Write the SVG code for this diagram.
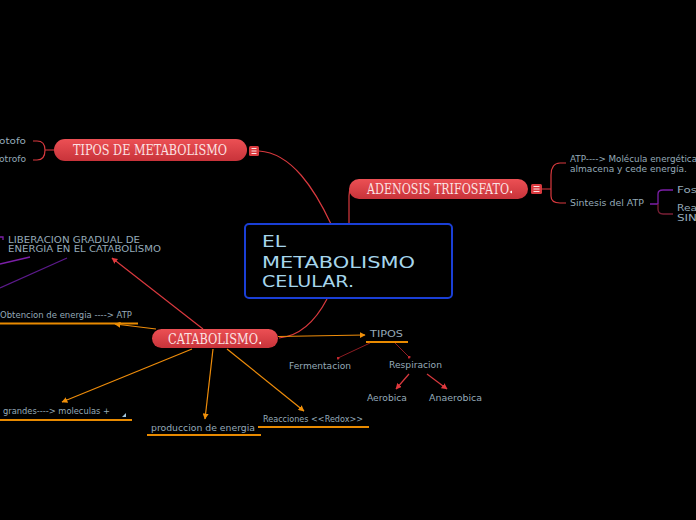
<svg xmlns="http://www.w3.org/2000/svg" width="696" height="520" viewBox="0 0 696 520">
<defs>
<linearGradient id="pill" x1="0" y1="0" x2="0" y2="1">
<stop offset="0" stop-color="#ec5054"/>
<stop offset="1" stop-color="#c8333a"/>
</linearGradient>
<marker id="ao" viewBox="0 0 10 10" refX="9" refY="5" markerWidth="6" markerHeight="6" orient="auto" markerUnits="userSpaceOnUse">
<path d="M0,0 L10,5 L0,10 z" fill="#f0900a"/>
</marker>
<marker id="ar" viewBox="0 0 10 10" refX="9" refY="5" markerWidth="6" markerHeight="6" orient="auto" markerUnits="userSpaceOnUse">
<path d="M0,0 L10,5 L0,10 z" fill="#e0393e"/>
</marker>
<marker id="dot" viewBox="0 0 4 4" refX="2" refY="2" markerWidth="3" markerHeight="3" markerUnits="userSpaceOnUse">
<circle cx="2" cy="2" r="2" fill="#c0282e"/>
</marker>
</defs>
<style>
.pill{fill:url(#pill);}
.pt{font-family:"DejaVu Serif","Liberation Serif",serif;font-size:14px;fill:#fbe2e3;}
.lb{font-family:"DejaVu Sans","Liberation Sans",sans-serif;font-size:8px;fill:#95aab8;}
.ct{font-family:"DejaVu Sans","Liberation Sans",sans-serif;font-size:15px;fill:#a6d6ec;}
.red{fill:none;stroke:#d9393e;stroke-width:1.2;}
.org{fill:none;stroke:#ee8c0a;stroke-width:1.2;}
.ul{fill:none;stroke:#e88a00;stroke-width:2;}
.dr{fill:none;stroke:#8e1c22;stroke-width:1;}
.pur{fill:none;stroke:#7c1fa8;stroke-width:1.3;}
.menu{fill:#d93a3f;}
.ml{stroke:#fbe2e3;stroke-width:1;}
</style>
<rect width="696" height="520" fill="#000"/>

<g id="connectors">
<path class="red" d="M259,151 C292,153 315,190 331,224"/>
<path class="red" d="M358,182 C352,184 349,188 349,196 L349,224"/>
<path class="red" d="M327,299 C316,320 300,336 279,338"/>
<path class="red" d="M54,150 L45,150 M33,141 L37,141 C43,141 45,145 45,150 C45,155 43,160 37,160 L33,160"/>
<path class="red" d="M542,189 L551,189 M566,163 L560,163 C554,163 551,168 551,175 L551,189 L551,196 C551,200 554,203 560,203 L566,203"/>
<path class="pur" d="M650,204 L658,204 M658,204 L658,194 C658,191 660,190 663,190 L673,190"/>
<path d="M658,204 L658,209 C658,212 660,214 663,214 L673,214" fill="none" stroke="#7a1f36" stroke-width="1.3"/>
<path class="red" d="M203,329 L112,258" marker-end="url(#ar)"/>
<path class="pur" d="M0,264 L30,257"/>
<path d="M0,288 L67,258" fill="none" stroke="#5c1a8c" stroke-width="1.2"/>
<path class="pur" d="M0,237 L3,237 L3,240"/>
<path class="org" d="M156,329 L115,324" marker-end="url(#ao)"/>
<path class="ul" d="M0,323.5 L138,323.5"/>
<path class="org" d="M192,349 L62,402" marker-end="url(#ao)"/>
<path class="ul" d="M0,420 L132,420"/>
<path class="org" d="M213,349 L205,419" marker-end="url(#ao)"/>
<path class="ul" d="M147,435 L261,435"/>
<path class="org" d="M227,349 L304,411" marker-end="url(#ao)"/>
<path class="ul" d="M258,427 L369,427"/>
<path class="org" d="M278,336.5 L365,335" marker-end="url(#ao)"/>
<path class="ul" d="M366,342 L408,342"/>
<path class="dr" d="M370,343 L338,358" marker-end="url(#dot)"/>
<path class="dr" d="M395,343 L409,357" marker-end="url(#dot)"/>
<path class="red" d="M409,374 L396,389" marker-end="url(#ar)"/>
<path class="red" d="M427,374 L447,389" marker-end="url(#ar)"/>
</g>

<g id="central">
<rect x="245" y="224" width="207" height="74" rx="4" fill="#000" stroke="#1a3fd6" stroke-width="2"/>
<text class="ct" x="262" y="247" textLength="24" lengthAdjust="spacingAndGlyphs">EL</text>
<text class="ct" x="262" y="268" textLength="153" lengthAdjust="spacingAndGlyphs">METABOLISMO</text>
<text class="ct" x="262" y="287" textLength="92" lengthAdjust="spacingAndGlyphs">CELULAR.</text>
</g>

<g id="tipos-metabolismo">
<rect class="pill" x="54" y="139" width="193" height="22" rx="11"/>
<text class="pt" x="73" y="155" textLength="154" lengthAdjust="spacingAndGlyphs">TIPOS DE METABOLISMO</text>
<rect class="menu" x="249" y="146" width="10" height="10" rx="1.5"/>
<path class="ml" d="M251.5,148.5 H256.5 M251.5,151 H256.5 M251.5,153.5 H256.5"/>
</g>
<g id="autotrofo"><text class="lb" x="26" y="144" text-anchor="end" textLength="27" lengthAdjust="spacingAndGlyphs">otofo</text></g>
<g id="heterotrofo"><text class="lb" x="26" y="162" text-anchor="end" textLength="27" lengthAdjust="spacingAndGlyphs">otrofo</text></g>

<g id="adenosis">
<rect class="pill" x="349" y="179" width="179" height="20" rx="10"/>
<text class="pt" x="367" y="194" textLength="142" lengthAdjust="spacingAndGlyphs">ADENOSIS TRIFOSFATO</text>
<path d="M509.5,192 l2.5,-1.5 v3 z" fill="#fff"/>
<rect class="menu" x="531" y="184" width="11" height="10" rx="1.5"/>
<path class="ml" d="M533.5,186.5 H539.5 M533.5,189 H539.5 M533.5,191.5 H539.5"/>
</g>
<g id="atp-molecula">
<text class="lb" x="570" y="162" textLength="127" lengthAdjust="spacingAndGlyphs">ATP----&gt; Molécula energética</text>
<text class="lb" x="570" y="172" textLength="117" lengthAdjust="spacingAndGlyphs">almacena y cede energía.</text>
</g>
<g id="sintesis"><text class="lb" x="570" y="206" textLength="74" lengthAdjust="spacingAndGlyphs">Sintesis del ATP</text></g>
<g id="fos"><text class="lb" x="677" y="193" textLength="20" lengthAdjust="spacingAndGlyphs">Fos</text></g>
<g id="rea">
<text class="lb" x="677" y="211" textLength="20" lengthAdjust="spacingAndGlyphs">Rea</text>
<text class="lb" x="677" y="221" textLength="20" lengthAdjust="spacingAndGlyphs">SIN</text>
</g>

<g id="catabolismo">
<rect class="pill" x="152" y="329" width="126" height="19" rx="9.5"/>
<text class="pt" x="168" y="344" textLength="90" lengthAdjust="spacingAndGlyphs">CATABOLISMO</text>
<path d="M258.5,343 l2.5,-1.5 v3 z" fill="#fff"/>
</g>
<g id="liberacion">
<text class="lb" x="8" y="243" textLength="132" lengthAdjust="spacingAndGlyphs">LIBERACION GRADUAL DE</text>
<text class="lb" x="8" y="252" textLength="153" lengthAdjust="spacingAndGlyphs">ENERGIA EN EL CATABOLISMO</text>
</g>
<g id="obtencion"><text class="lb" x="0" y="318" textLength="132" lengthAdjust="spacingAndGlyphs">Obtencion de energia ----&gt; ATP</text></g>
<g id="grandes">
<text class="lb" x="3" y="414" textLength="107" lengthAdjust="spacingAndGlyphs">grandes----&gt; moleculas +</text>
<path d="M126,413 L126,417 L122,417 z" fill="#9fc4dc"/>
</g>
<g id="produccion"><text class="lb" x="151" y="431" textLength="104" lengthAdjust="spacingAndGlyphs">produccion de energia</text></g>
<g id="reacciones"><text class="lb" x="263" y="422" textLength="100" lengthAdjust="spacingAndGlyphs">Reacciones &lt;&lt;Redox&gt;&gt;</text></g>
<g id="tipos"><text class="lb" x="370" y="337" textLength="33" lengthAdjust="spacingAndGlyphs">TIPOS</text></g>
<g id="fermentacion"><text class="lb" x="289" y="369" textLength="62" lengthAdjust="spacingAndGlyphs">Fermentacion</text></g>
<g id="respiracion"><text class="lb" x="389" y="368" textLength="53" lengthAdjust="spacingAndGlyphs">Respiracion</text></g>
<g id="aerobica"><text class="lb" x="367" y="401" textLength="40" lengthAdjust="spacingAndGlyphs">Aerobica</text></g>
<g id="anaerobica"><text class="lb" x="429" y="401" textLength="53" lengthAdjust="spacingAndGlyphs">Anaerobica</text></g>
</svg>
